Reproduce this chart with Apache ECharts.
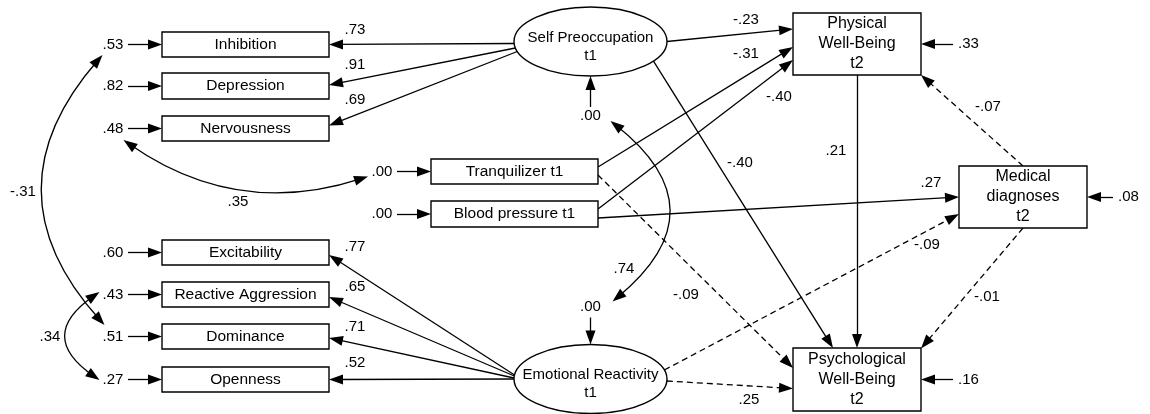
<!DOCTYPE html>
<html>
<head>
<meta charset="utf-8">
<title>Path model</title>
<script src="https://cdn.jsdelivr.net/npm/echarts@6/dist/echarts.min.js"></script>
<style>
  html, body { margin: 0; padding: 0; background: #fff; }
  #main { width: 1150px; height: 414px; }
</style>
</head>
<body>
<div id="main"></div>
<script>
// ---- model values ----
const nodeIds = ['INH', 'DEP', 'NER', 'EXC', 'RAG', 'DOM', 'OPE', 'SP', 'ER', 'TQ', 'BP', 'PWB', 'MD', 'PSY'];
const nodeLabels = [
  'Inhibition', 'Depression', 'Nervousness', 'Excitability', 'Reactive Aggression', 'Dominance', 'Openness',
  'Self Preoccupation\nt1', 'Emotional Reactivity\nt1', 'Tranquilizer t1', 'Blood pressure t1',
  'Physical\nWell-Being\nt2', 'Medical\ndiagnoses\nt2', 'Psychological\nWell-Being\nt2'
];
// residual / disturbance variances, same order as nodeIds
const residuals = [0.53, 0.82, 0.48, 0.60, 0.43, 0.51, 0.27, 0.00, 0.00, 0.00, 0.00, 0.33, 0.08, 0.16];

// factor loadings
const loadFrom = ['SP', 'SP', 'SP', 'ER', 'ER', 'ER', 'ER'];
const loadTo = ['INH', 'DEP', 'NER', 'EXC', 'RAG', 'DOM', 'OPE'];
const loadings = [0.73, 0.91, 0.69, 0.77, 0.65, 0.71, 0.52];

// structural paths (dashed = not significant)
const pathFrom = ['SP', 'TQ', 'BP', 'SP', 'PWB', 'BP', 'MD', 'ER', 'TQ', 'ER', 'MD'];
const pathTo = ['PWB', 'PWB', 'PWB', 'PSY', 'PSY', 'MD', 'PWB', 'MD', 'PSY', 'PSY', 'PSY'];
const pathCoef = [-0.23, -0.31, -0.40, -0.40, 0.21, 0.27, -0.07, -0.09, -0.09, 0.25, -0.01];
const pathSignificant = [true, true, true, true, true, true, false, false, false, false, false];

// correlated residuals
const covA = ['INH', 'RAG', 'NER', 'SP'];
const covB = ['DOM', 'OPE', 'TQ', 'ER'];
const covValues = [-0.31, 0.34, 0.35, 0.74];

// ---- layout (pixels, chart is mapped 1:1) ----
const nodeBox = {
  INH: [245.5, 44.5, 167, 25], DEP: [245.5, 86, 167, 26], NER: [245.5, 128.5, 167, 25],
  EXC: [245.5, 252.5, 167, 25], RAG: [245.5, 294.5, 167, 25], DOM: [245.5, 336.5, 167, 25],
  OPE: [245.5, 379.5, 167, 25],
  SP: [590.5, 41.5, 153, 69], ER: [590.5, 379, 153, 69],
  TQ: [514.5, 171.5, 167, 25], BP: [514.5, 214, 167, 26],
  PWB: [857, 44, 128, 62], MD: [1023, 197, 128, 62], PSY: [857, 379.5, 128, 63]
};
const nodeShape = { SP: 'ellipse', ER: 'ellipse' };
const nodeFont = { SP: 15, ER: 15, PWB: 16, MD: 16, PSY: 16 };
const nodeTextDy = { SP: 5, ER: 5 };
// side and length of residual arrow
const residualArrow = {
  INH: ['L', 34], DEP: ['L', 34], NER: ['L', 34], EXC: ['L', 34], RAG: ['L', 34], DOM: ['L', 34], OPE: ['L', 34],
  TQ: ['L', 34], BP: ['L', 34], SP: ['B', 31], ER: ['T', 27], PWB: ['R', 32], MD: ['R', 26], PSY: ['R', 32]
};
const loadAnchor = [[2, 0], [6.5, -1], [10, -3], [-4, 2.5], [-3, 2.5], [-1, 1.5], [0, 0]];
const loadLabelXY = [[355, 30], [355, 65], [355, 100], [355, 247], [355, 287], [355, 327], [355, 363]];
const pathAnchor = [
  ['R', 0, 'L', -15], ['R', -4.5, 'L', 3], ['R', -5, 'L', 16], ['B', 63, 'T', -24], ['B', 0, 'T', 0],
  ['R', 4, 'L', 0], ['T', 0, 'R', 31], ['R', -9, 'L', 17], ['R', 3.5, 'L', -11.5], ['R', 2, 'L', 9], ['B', 0, 'R', -31]
];
const pathLabelXY = [[746, 20], [746, 54], [779, 97], [740, 163], [836, 151], [931, 183], [988, 107], [927, 245], [686, 295], [749, 400], [987, 297]];
const covOffA = [[-10.5, 10.5], [-13.5, -2.5], [10.5, 11.5], [20, 5]];
const covOffB = [[-8.5, -11.5], [-13.5, 0.5], [-14, 5], [22, -5]];
const covCurve = [-0.444, -0.727, -0.25, 0.619];
const covLabelXY = [[23, 192], [50, 337], [238, 202], [624, 269]];

const FONT = '"Liberation Sans", Arial, Helvetica, sans-serif';
const INK = '#000';
const HEAD = [10, 14];

function fmt(v) {
  const s = Math.abs(v).toFixed(2).replace(/^0/, '');
  return v < 0 ? '-' + s : s;
}

function edgePoint(id, side, off) {
  const [cx, cy, w, h] = nodeBox[id];
  const rx = w / 2, ry = h / 2;
  if (nodeShape[id] === 'ellipse') {
    if (side === 'L' || side === 'R') {
      const dx = rx * Math.sqrt(1 - (off / ry) * (off / ry));
      return [side === 'L' ? cx - dx : cx + dx, cy + off];
    }
    const dy = ry * Math.sqrt(1 - (off / rx) * (off / rx));
    return [cx + off, side === 'T' ? cy - dy : cy + dy];
  }
  if (side === 'L') return [cx - rx, cy + off];
  if (side === 'R') return [cx + rx, cy + off];
  if (side === 'T') return [cx + off, cy - ry];
  return [cx + off, cy + ry];
}

function toward(p, q, d) {
  const dx = q[0] - p[0], dy = q[1] - p[1];
  const len = Math.sqrt(dx * dx + dy * dy) || 1;
  return [p[0] + dx / len * d, p[1] + dy / len * d];
}

const arrowLines = [];
const texts = [];

// arrowheads are centred on the line end, so pull the ends back by half a head
function addArrow(p0, p1, dashed, both, curve) {
  const c = curve || 0;
  let aim0 = p1, aim1 = p0;
  if (c) {
    const cp = [(p0[0] + p1[0]) / 2 - (p0[1] - p1[1]) * c, (p0[1] + p1[1]) / 2 - (p1[0] - p0[0]) * c];
    aim0 = cp; aim1 = cp;
  }
  const a = both ? toward(p0, aim0, HEAD[1] / 2) : p0;
  const b = toward(p1, aim1, HEAD[1] / 2);
  arrowLines.push({
    coords: [a, b],
    symbol: both ? ['triangle', 'triangle'] : ['none', 'triangle'],
    lineStyle: { type: dashed ? [6, 4] : 'solid', curveness: c }
  });
}

function addText(x, y, text, align) {
  texts.push({ x: x, y: y, text: text, align: align || 'center' });
}

// residual arrows and their values
const residualTextXY = {};
nodeIds.forEach(function (id, i) {
  const [side, len] = residualArrow[id];
  const p = edgePoint(id, side, 0);
  let start, txt;
  if (side === 'L') { start = [p[0] - len, p[1]]; txt = [start[0] - 15, p[1]]; addText(txt[0], txt[1], fmt(residuals[i])); }
  else if (side === 'R') { start = [p[0] + len, p[1]]; txt = [start[0] + 15, p[1]]; addText(start[0] + 5, p[1], fmt(residuals[i]), 'left'); }
  else if (side === 'B') { start = [p[0], p[1] + len]; txt = [p[0], start[1] + 9]; addText(txt[0], txt[1], fmt(residuals[i])); }
  else { start = [p[0], p[1] - len]; txt = [p[0], start[1] - 11]; addText(txt[0], txt[1], fmt(residuals[i])); }
  residualTextXY[id] = txt;
  addArrow(start, p, false, false, 0);
});

loadings.forEach(function (v, i) {
  addArrow(edgePoint(loadFrom[i], 'L', loadAnchor[i][0]), edgePoint(loadTo[i], 'R', loadAnchor[i][1]), false, false, 0);
  addText(loadLabelXY[i][0], loadLabelXY[i][1], fmt(v));
});

pathCoef.forEach(function (v, i) {
  const an = pathAnchor[i];
  addArrow(edgePoint(pathFrom[i], an[0], an[1]), edgePoint(pathTo[i], an[2], an[3]), !pathSignificant[i], false, 0);
  addText(pathLabelXY[i][0], pathLabelXY[i][1], fmt(v));
});

covValues.forEach(function (v, i) {
  const ta = residualTextXY[covA[i]], tb = residualTextXY[covB[i]];
  const p0 = [ta[0] + covOffA[i][0], ta[1] + covOffA[i][1]];
  const p1 = [tb[0] + covOffB[i][0], tb[1] + covOffB[i][1]];
  addArrow(p0, p1, false, true, covCurve[i]);
  addText(covLabelXY[i][0], covLabelXY[i][1], fmt(v));
});

const chart = echarts.init(document.getElementById('main'));

chart.setOption({
  animation: false,
  backgroundColor: '#fff',
  grid: { left: 0, right: 0, top: 0, bottom: 0 },
  xAxis: { type: 'value', min: 0, max: 1150, show: false },
  yAxis: { type: 'value', min: 0, max: 414, inverse: true, show: false },
  series: [
    {
      type: 'lines',
      coordinateSystem: 'cartesian2d',
      silent: true,
      z: 2,
      symbolSize: [HEAD, HEAD],
      lineStyle: { color: INK, width: 1.3, opacity: 1 },
      data: arrowLines
    },
    {
      type: 'custom',
      coordinateSystem: 'cartesian2d',
      silent: true,
      z: 3,
      data: nodeIds.map(function (id) { return nodeBox[id]; }),
      renderItem: function (params, api) {
        const id = nodeIds[params.dataIndex];
        const c = api.coord([api.value(0), api.value(1)]);
        const s = api.size([api.value(2), api.value(3)]);
        const w = Math.abs(s[0]), h = Math.abs(s[1]);
        const frame = nodeShape[id] === 'ellipse'
          ? { type: 'ellipse', shape: { cx: c[0], cy: c[1], rx: w / 2, ry: h / 2 } }
          : { type: 'rect', shape: { x: c[0] - w / 2, y: c[1] - h / 2, width: w, height: h } };
        frame.style = { fill: '#fff', stroke: INK, lineWidth: 1.4 };
        const size = nodeFont[id] || 15.5;
        return {
          type: 'group',
          children: [frame, {
            type: 'text',
            x: c[0],
            y: c[1] + (nodeTextDy[id] || 0),
            style: {
              text: nodeLabels[params.dataIndex],
              fill: '#000',
              font: size + 'px ' + FONT,
              lineHeight: size >= 16 ? 20 : 18,
              align: 'center',
              verticalAlign: 'middle'
            }
          }]
        };
      }
    },
    {
      type: 'custom',
      coordinateSystem: 'cartesian2d',
      silent: true,
      z: 4,
      data: texts.map(function (t) { return [t.x, t.y]; }),
      renderItem: function (params, api) {
        const t = texts[params.dataIndex];
        const c = api.coord([api.value(0), api.value(1)]);
        return {
          type: 'text',
          x: c[0],
          y: c[1],
          style: { text: t.text, fill: '#000', font: '15px ' + FONT, align: t.align, verticalAlign: 'middle' }
        };
      }
    }
  ]
});
</script>
</body>
</html>
